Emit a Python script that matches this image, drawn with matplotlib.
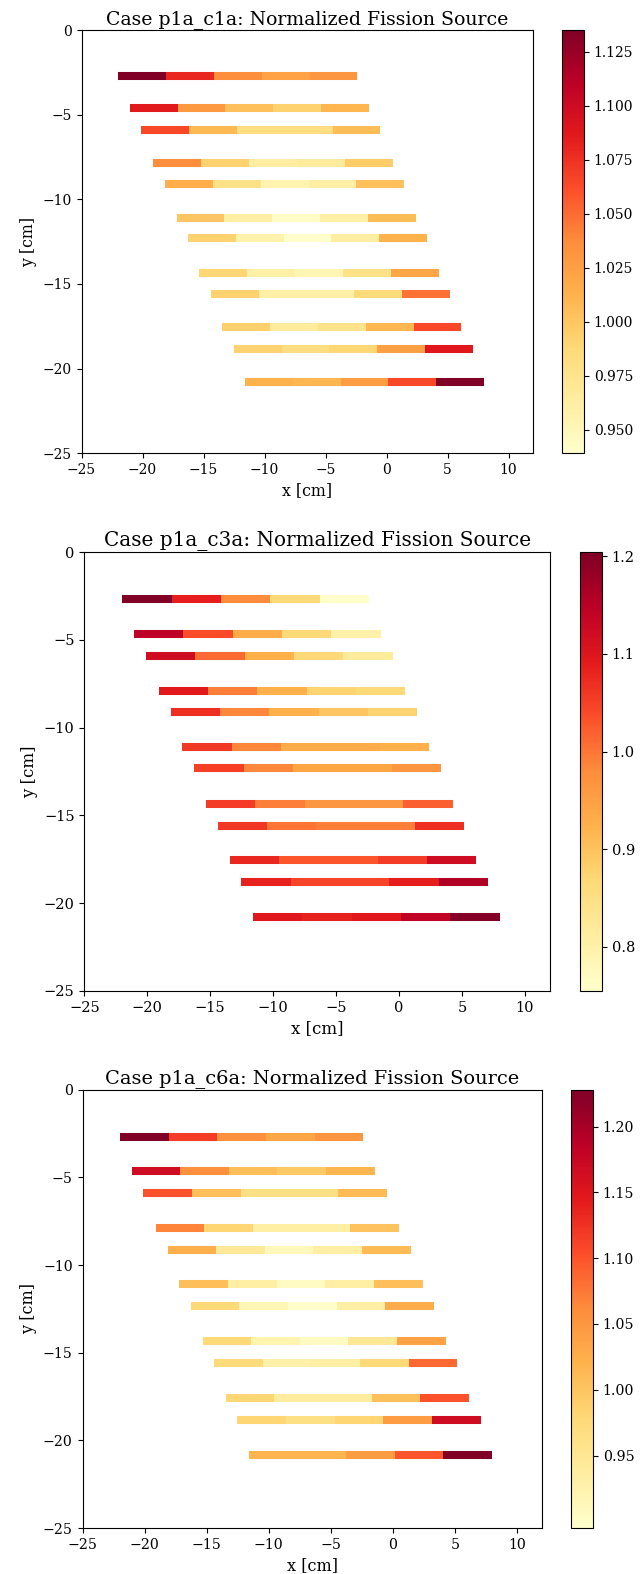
import matplotlib

matplotlib.use("Agg")
import matplotlib.pyplot as plt
import numpy as np
from matplotlib.collections import LineCollection

plt.rcParams["font.family"] = "DejaVu Serif"

# Fuel rows: centre height and left edge of the first cell [cm]
row_y = [-2.69, -4.63, -5.90, -7.88, -9.12, -11.10, -12.31, -14.35, -15.61, -17.57, -18.82, -20.81]
row_x0 = [-21.98, -21.05, -20.10, -19.10, -18.15, -17.20, -16.27, -15.33, -14.40, -13.46, -12.52, -11.60]
cell_width = 3.92

# Normalized fission source per cell, five cells per row
source_c1a = [
    [1.135, 1.080, 1.037, 1.023, 1.031],
    [1.086, 1.029, 1.004, 0.992, 1.010],
    [1.064, 1.008, 0.982, 0.982, 1.006],
    [1.037, 0.992, 0.963, 0.966, 0.996],
    [1.015, 0.978, 0.955, 0.961, 1.004],
    [1.000, 0.961, 0.943, 0.959, 1.006],
    [0.992, 0.957, 0.939, 0.963, 1.013],
    [0.990, 0.959, 0.953, 0.978, 1.021],
    [0.992, 0.959, 0.959, 0.986, 1.047],
    [0.994, 0.966, 0.976, 1.010, 1.064],
    [0.992, 0.982, 0.990, 1.025, 1.088],
    [1.013, 1.010, 1.027, 1.064, 1.135],
]
source_c3a = [
    [1.204, 1.087, 0.980, 0.867, 0.755],
    [1.146, 1.038, 0.935, 0.867, 0.800],
    [1.123, 1.011, 0.926, 0.867, 0.818],
    [1.092, 0.993, 0.926, 0.876, 0.867],
    [1.069, 0.984, 0.926, 0.894, 0.876],
    [1.060, 0.984, 0.935, 0.935, 0.926],
    [1.051, 0.984, 0.944, 0.944, 0.966],
    [1.056, 0.993, 0.966, 0.966, 1.020],
    [1.060, 1.002, 0.993, 0.993, 1.069],
    [1.078, 1.029, 1.029, 1.056, 1.123],
    [1.083, 1.047, 1.047, 1.087, 1.159],
    [1.096, 1.083, 1.096, 1.141, 1.200],
]
source_c6a = [
    [1.228, 1.118, 1.058, 1.035, 1.052],
    [1.168, 1.058, 1.008, 0.995, 1.015],
    [1.101, 1.008, 0.965, 0.965, 1.012],
    [1.068, 0.982, 0.932, 0.932, 1.002],
    [1.025, 0.945, 0.912, 0.932, 1.012],
    [1.008, 0.932, 0.905, 0.932, 1.008],
    [0.978, 0.918, 0.895, 0.932, 1.028],
    [0.978, 0.922, 0.905, 0.948, 1.038],
    [0.975, 0.928, 0.932, 0.978, 1.085],
    [0.982, 0.938, 0.938, 1.005, 1.101],
    [0.982, 0.965, 0.982, 1.045, 1.168],
    [1.018, 1.018, 1.045, 1.098, 1.228],
]

cases = ["p1a_c1a", "p1a_c3a", "p1a_c6a"]
sources = [source_c1a, source_c3a, source_c6a]
cbar_ticks = [
    np.arange(0.950, 1.1251, 0.025),
    np.arange(0.8, 1.201, 0.1),
    np.arange(0.95, 1.201, 0.05),
]
cbar_formats = ["%.3f", "%.1f", "%.2f"]

# axes / colorbar boxes in pixels: left, right, top, bottom, cbar left
W, H = 640, 1574
boxes = [
    (81.5, 532.9, 30.0, 453.3, 562.0),
    (84.3, 550.1, 552.3, 990.8, 580.0),
    (82.5, 541.7, 1089.7, 1528.0, 571.0),
]
font_scale = [1.136, 1.2, 1.16]
cbar_w = 22.0


def cell_segments(row_y, row_x0, width, n):
    segs = []
    for y, x0 in zip(row_y, row_x0):
        for k in range(n):
            segs.append([(x0 + k * width, y), (x0 + (k + 1) * width, y)])
    return segs


fig = plt.figure(figsize=(W / 100, H / 100), dpi=100)

for case, src, ticks, fmt, s, (left, right, top, bottom, cleft) in zip(
    cases, sources, cbar_ticks, cbar_formats, font_scale, boxes
):
    ax = fig.add_axes([left / W, 1 - bottom / H, (right - left) / W, (bottom - top) / H])
    cax = fig.add_axes([cleft / W, 1 - bottom / H, cbar_w / W, (bottom - top) / H])

    values = np.asarray(src).ravel()
    segs = cell_segments(row_y, row_x0, cell_width, 5)
    lc = LineCollection(segs, cmap="YlOrRd", linewidths=5.8, capstyle="butt")
    lc.set_array(values)
    ax.add_collection(lc)

    ax.set_xlim(-25, 12)
    ax.set_ylim(-25, 0)
    ax.set_xticks([-25, -20, -15, -10, -5, 0, 5, 10])
    ax.set_yticks([0, -5, -10, -15, -20, -25])
    ax.tick_params(labelsize=8.8 * s)
    ax.set_xlabel("x [cm]", fontsize=10 * s)
    ax.set_ylabel("y [cm]", fontsize=10 * s)
    ax.set_title(f"Case {case}: Normalized Fission Source", fontsize=12 * s, pad=4.5)

    cb = fig.colorbar(lc, cax=cax, ticks=ticks, format=fmt)
    cb.ax.tick_params(labelsize=8.8 * s)

fig.savefig("out.png", dpi=100)
